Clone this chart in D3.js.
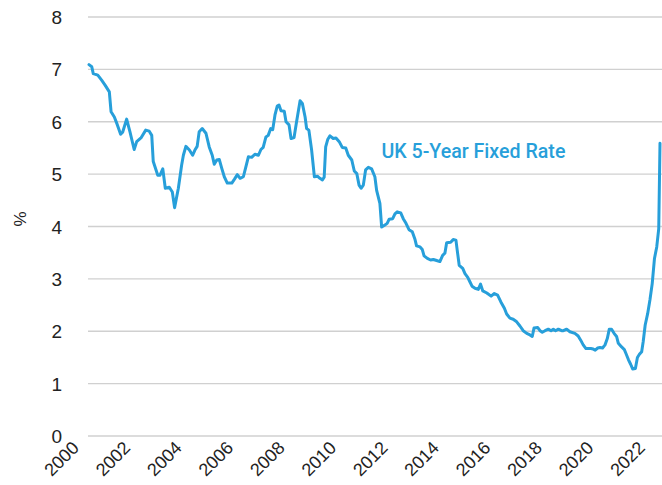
<!DOCTYPE html>
<html><head><meta charset="utf-8">
<script src="https://cdn.jsdelivr.net/npm/d3@7/dist/d3.min.js"></script>
<style>body{margin:0;background:#fff}svg{display:block}</style>
</head><body><svg id="c" width="662" height="485"></svg>
<script>
const dates = [2000.00,2000.11,2000.17,2000.35,2000.51,2000.64,2000.81,2000.88,2001.01,2001.13,2001.26,2001.34,2001.50,2001.63,2001.80,2001.90,2002.07,2002.26,2002.40,2002.50,2002.56,2002.74,2002.83,2002.94,2003.04,2003.20,2003.32,2003.41,2003.56,2003.69,2003.76,2003.86,2004.00,2004.13,2004.22,2004.31,2004.39,2004.51,2004.66,2004.79,2004.91,2004.99,2005.09,2005.19,2005.29,2005.39,2005.51,2005.69,2005.79,2005.91,2006.02,2006.15,2006.25,2006.35,2006.48,2006.61,2006.75,2006.85,2006.94,2007.05,2007.14,2007.24,2007.32,2007.41,2007.50,2007.57,2007.65,2007.78,2007.85,2007.97,2008.05,2008.17,2008.27,2008.41,2008.50,2008.61,2008.67,2008.76,2008.87,2008.98,2009.10,2009.20,2009.30,2009.37,2009.43,2009.51,2009.60,2009.73,2009.84,2009.97,2010.09,2010.23,2010.33,2010.47,2010.57,2010.67,2010.76,2010.84,2010.93,2011.02,2011.13,2011.26,2011.39,2011.46,2011.59,2011.66,2011.79,2011.88,2011.96,2012.10,2012.19,2012.28,2012.42,2012.52,2012.63,2012.75,2012.88,2012.99,2013.05,2013.19,2013.28,2013.35,2013.48,2013.61,2013.72,2013.85,2013.98,2014.09,2014.18,2014.25,2014.41,2014.51,2014.62,2014.67,2014.75,2014.89,2014.98,2015.09,2015.18,2015.26,2015.38,2015.51,2015.60,2015.69,2015.85,2016.02,2016.15,2016.28,2016.41,2016.55,2016.64,2016.77,2016.90,2017.04,2017.17,2017.30,2017.44,2017.57,2017.66,2017.73,2017.88,2017.97,2018.06,2018.17,2018.30,2018.41,2018.50,2018.59,2018.70,2018.83,2018.90,2019.03,2019.16,2019.36,2019.49,2019.59,2019.69,2019.80,2019.99,2020.09,2020.17,2020.27,2020.36,2020.46,2020.56,2020.65,2020.73,2020.82,2020.92,2021.02,2021.09,2021.22,2021.33,2021.39,2021.49,2021.58,2021.66,2021.77,2021.85,2021.93,2022.02,2022.08,2022.16,2022.26,2022.35,2022.44,2022.53,2022.62,2022.70,2022.75];
const rates = [7.09,7.05,6.92,6.89,6.79,6.70,6.57,6.19,6.09,5.94,5.76,5.80,6.05,5.81,5.47,5.62,5.69,5.84,5.82,5.74,5.24,4.98,4.98,5.10,4.73,4.75,4.66,4.36,4.73,5.17,5.36,5.53,5.46,5.36,5.46,5.53,5.81,5.87,5.78,5.52,5.36,5.19,5.27,5.28,5.11,4.95,4.83,4.83,4.90,4.99,4.92,4.95,5.14,5.33,5.32,5.38,5.36,5.47,5.51,5.71,5.74,5.87,5.85,6.13,6.30,6.32,6.21,6.20,6.00,5.94,5.68,5.70,6.00,6.40,6.35,6.09,5.87,5.84,5.46,4.95,4.96,4.92,4.89,4.94,5.52,5.66,5.73,5.68,5.69,5.62,5.51,5.50,5.36,5.27,5.06,5.01,4.79,4.73,4.79,5.08,5.13,5.10,4.95,4.69,4.44,3.99,4.03,4.06,4.14,4.15,4.24,4.28,4.26,4.15,4.06,3.94,3.90,3.75,3.63,3.61,3.56,3.44,3.39,3.36,3.37,3.35,3.33,3.45,3.49,3.69,3.70,3.75,3.74,3.55,3.26,3.20,3.10,3.03,2.94,2.86,2.82,2.80,2.90,2.77,2.73,2.67,2.72,2.69,2.56,2.44,2.33,2.25,2.23,2.18,2.10,2.01,1.96,1.93,1.90,2.06,2.07,2.01,1.98,2.01,2.04,2.01,2.04,2.01,2.04,2.01,2.01,2.04,1.99,1.96,1.91,1.83,1.74,1.67,1.67,1.66,1.64,1.68,1.69,1.68,1.74,1.86,2.04,2.04,1.96,1.90,1.77,1.70,1.65,1.58,1.46,1.37,1.28,1.29,1.50,1.56,1.61,1.80,2.12,2.34,2.60,2.91,3.39,3.61,3.96,5.59];
const yTicks = [0,1,2,3,4,5,6,7,8];
const yearLabels = ["2000","2002","2004","2006","2008","2010","2012","2014","2016","2018","2020","2022"];
const seriesName = "UK 5-Year Fixed Rate";
const yTitle = "%";

const svg = d3.select("#c");
const color = "#279fda";
const x = d3.scaleLinear().domain([2000, 2022.75]).range([89, 660]);
const y = d3.scaleLinear().domain([0, 8]).range([436, 17]);
const xl = d3.scalePoint().domain(yearLabels).range([80, 646]);

const g = svg.append("g");
g.selectAll("line.grid").data(yTicks).enter().append("line")
  .attr("x1", 88).attr("x2", 662)
  .attr("y1", d => y(d)).attr("y2", d => y(d))
  .attr("stroke", "#d0d0d0").attr("stroke-width", 1.3);

g.selectAll("text.yt").data(yTicks).enter().append("text")
  .attr("x", 62).attr("y", d => y(d) + 7)
  .attr("text-anchor", "end")
  .attr("font-family", "Liberation Sans, Arial, sans-serif")
  .attr("font-size", 19).attr("fill", "#222")
  .text(d => d);

g.selectAll("text.xt").data(yearLabels).enter().append("text")
  .attr("transform", d => `translate(${xl(d)},449) rotate(-45)`)
  .attr("text-anchor", "end")
  .attr("font-family", "Liberation Sans, Arial, sans-serif")
  .attr("font-size", 18).attr("fill", "#222")
  .text(d => d);

g.append("text")
  .attr("transform", "translate(26,219) rotate(-90)")
  .attr("text-anchor", "middle")
  .attr("font-family", "Liberation Sans, Arial, sans-serif")
  .attr("font-size", 17).attr("fill", "#222")
  .text(yTitle);

const pts = dates.map((d, i) => [d, rates[i]]);
g.append("path").datum(pts)
  .attr("fill", "none").attr("stroke", color).attr("stroke-width", 3)
  .attr("stroke-linejoin", "round").attr("stroke-linecap", "round")
  .attr("d", d3.line().x(d => x(d[0])).y(d => y(d[1])));

g.append("text")
  .attr("x", x(2011.65)).attr("y", y(5.3))
  .attr("font-family", "Roboto, Liberation Sans, sans-serif")
  .attr("font-weight", 500)
  .attr("font-size", 21).attr("fill", color)
  .attr("textLength", 184).attr("lengthAdjust", "spacingAndGlyphs")
  .text(seriesName);
</script></body></html>
